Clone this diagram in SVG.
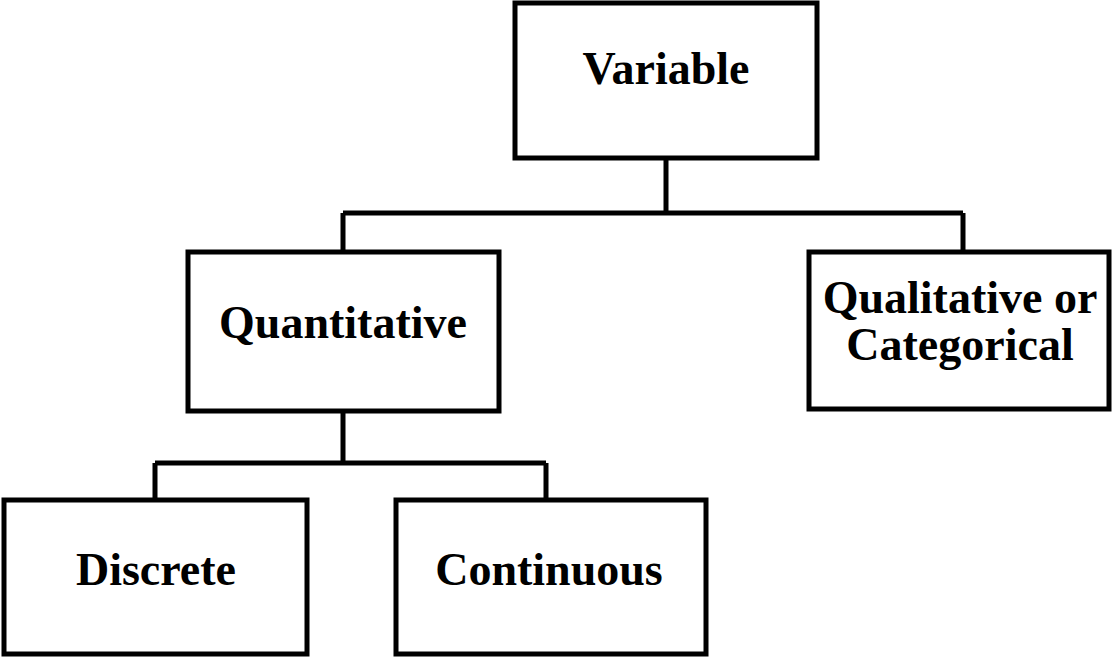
<svg xmlns="http://www.w3.org/2000/svg" width="1112" height="658" viewBox="0 0 1112 658">
<style>
.box{fill:#fff;stroke:#000;stroke-width:5}
.ln{fill:none;stroke:#000;stroke-width:5}
text{font-family:"Liberation Serif","Times New Roman",serif;font-weight:bold;font-size:46px;text-anchor:middle;fill:#000}
</style>
<rect width="1112" height="658" fill="#fff"/>
<g id="connectors">
<path class="ln" d="M666,158 V213 M343,213 H963 M343,213 V252 M963,213 V252"/>
<path class="ln" d="M343,411 V463 M155,463 H546 M155,463 V500 M546,463 V500"/>
</g>
<g id="variable"><rect class="box" x="515" y="3" width="302" height="155"/><text x="666" y="84">Variable</text></g>
<g id="quantitative"><rect class="box" x="188" y="252" width="311" height="159"/><text x="343" y="338">Quantitative</text></g>
<g id="qualitative"><rect class="box" x="809" y="252" width="300" height="157"/><text x="960" y="313">Qualitative or</text><text x="960" y="360">Categorical</text></g>
<g id="discrete"><rect class="box" x="4" y="500" width="303" height="154"/><text x="156" y="585">Discrete</text></g>
<g id="continuous"><rect class="box" x="396" y="500" width="310" height="154"/><text x="549" y="585">Continuous</text></g>
</svg>
